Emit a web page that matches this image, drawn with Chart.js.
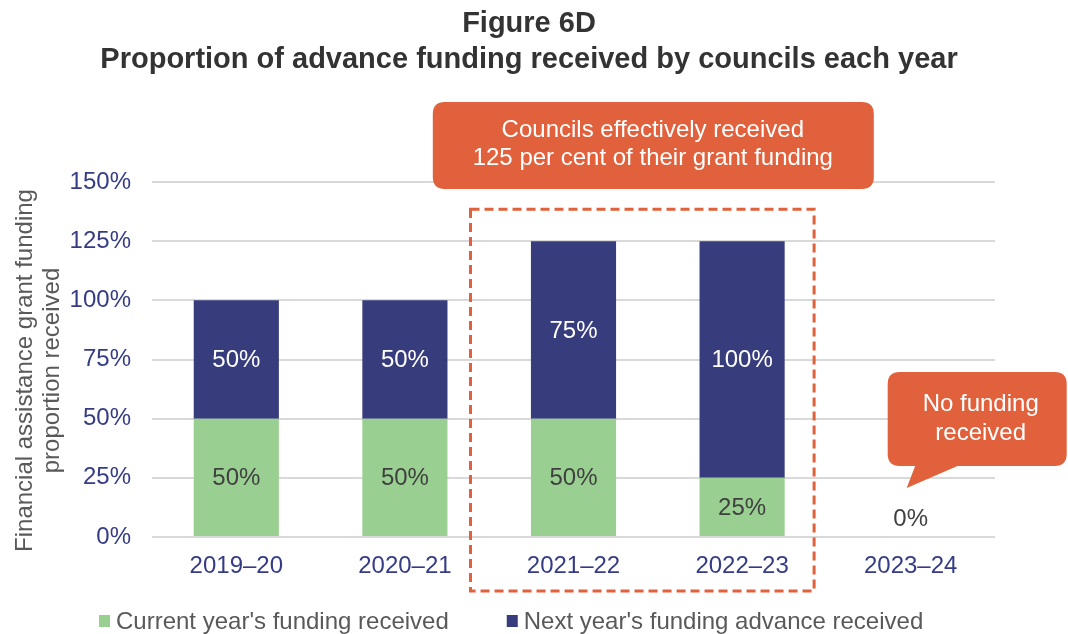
<!DOCTYPE html>
<html>
<head>
<meta charset="utf-8">
<script src="https://cdn.jsdelivr.net/npm/chart.js@4/dist/chart.umd.min.js"></script>
<style>
  html, body { margin: 0; padding: 0; background: #fff; }
  #wrap { width: 1068px; height: 634px; }
</style>
</head>
<body>
<div id="wrap"><canvas id="fundingChart" width="1068" height="634"></canvas></div>
<script>
var years = ['2019–20', '2020–21', '2021–22', '2022–23', '2023–24'];
var currentYear = [50, 50, 50, 25, 0];
var nextYearAdvance = [50, 50, 75, 100, 0];
var yTicks = [0, 25, 50, 75, 100, 125, 150];
var titleLines = ['Figure 6D', 'Proportion of advance funding received by councils each year'];
var yTitleLines = ['Financial assistance grant funding', 'proportion received'];

var GREEN = '#99cf90';
var NAVY = '#373d7c';
var ORANGE = '#e0613b';
var FONT = 'Liberation Sans, Arial, sans-serif';

function roundRect(ctx, x, y, w, h, r) {
    ctx.beginPath();
    ctx.moveTo(x + r, y);
    ctx.lineTo(x + w - r, y);
    ctx.quadraticCurveTo(x + w, y, x + w, y + r);
    ctx.lineTo(x + w, y + h - r);
    ctx.quadraticCurveTo(x + w, y + h, x + w - r, y + h);
    ctx.lineTo(x + r, y + h);
    ctx.quadraticCurveTo(x, y + h, x, y + h - r);
    ctx.lineTo(x, y + r);
    ctx.quadraticCurveTo(x, y, x + r, y);
    ctx.closePath();
}

// title, axis title, legend, bar labels, dashed box and the two callouts
var extras = {
    id: 'extras',
    afterDatasetsDraw: function(chart) {
        var ctx = chart.ctx;
        var xs = chart.scales.x, ys = chart.scales.y;
        var area = chart.chartArea;
        ctx.save();
        ctx.textAlign = 'center';
        ctx.textBaseline = 'middle';

        // title
        ctx.fillStyle = '#333333';
        ctx.font = 'bold 29px ' + FONT;
        ctx.fillText(titleLines[0], 529, 24);
        ctx.fillText(titleLines[1], 529, 60);

        // y axis title, rotated
        ctx.save();
        ctx.translate(25, (area.top + area.bottom) / 2 + 11);
        ctx.rotate(-Math.PI / 2);
        ctx.fillStyle = '#595959';
        ctx.font = '24px ' + FONT;
        ctx.fillText(yTitleLines[0], 0, 0);
        ctx.fillText(yTitleLines[1], 0, 27);
        ctx.restore();

        // values inside the bars
        ctx.font = '24px ' + FONT;
        chart.data.datasets.forEach(function(ds, di) {
            var meta = chart.getDatasetMeta(di);
            meta.data.forEach(function(bar, i) {
                var v = ds.data[i];
                if (!v) return;
                ctx.fillStyle = di === 0 ? '#404040' : '#ffffff';
                ctx.fillText(v + '%', bar.x, (bar.y + bar.base) / 2 + 1);
            });
        });
        years.forEach(function(y, i) {
            if (currentYear[i] + nextYearAdvance[i] === 0) {
                ctx.fillStyle = '#404040';
                ctx.fillText('0%', xs.getPixelForValue(i), ys.getPixelForValue(0) - 18);
            }
        });

        // dashed box round the two 125% years
        var left = xs.getPixelForValue(2) - 103;
        var right = xs.getPixelForValue(3) + 72;
        var top = ys.getPixelForValue(125) - 32;
        var bottom = ys.getPixelForValue(0) + 54;
        ctx.strokeStyle = ORANGE;
        ctx.lineWidth = 3;
        ctx.setLineDash([9, 5]);
        ctx.strokeRect(left, top, right - left, bottom - top);
        ctx.setLineDash([]);

        // top callout
        var cx = (xs.getPixelForValue(2) + xs.getPixelForValue(3)) / 2 - 5;
        ctx.fillStyle = ORANGE;
        roundRect(ctx, cx - 220, 102, 441, 87, 12);
        ctx.fill();
        ctx.fillStyle = '#ffffff';
        ctx.fillText('Councils effectively received', cx, 130);
        ctx.fillText('125 per cent of their grant funding', cx, 158);

        // speech bubble for 2023–24
        var bx = xs.getPixelForValue(4);
        ctx.fillStyle = ORANGE;
        roundRect(ctx, bx - 23, 372, 179, 94, 12);
        ctx.fill();
        ctx.beginPath();
        ctx.moveTo(bx + 6, 462);
        ctx.lineTo(bx - 4, 488);
        ctx.lineTo(bx + 56, 462);
        ctx.closePath();
        ctx.fill();
        ctx.fillStyle = '#ffffff';
        ctx.fillText('No funding', bx + 70, 404);
        ctx.fillText('received', bx + 70, 433);

        // legend
        ctx.textAlign = 'left';
        var lx = area.left - 53;
        var ly = area.bottom + 84;
        chart.data.datasets.forEach(function(ds) {
            ctx.fillStyle = ds.backgroundColor;
            ctx.fillRect(lx, ly - 6, 11, 12);
            ctx.fillStyle = '#595959';
            ctx.fillText(ds.label, lx + 17, ly + 1);
            lx += 17 + ctx.measureText(ds.label).width + 58;
        });
        ctx.restore();
    }
};

var ctx = document.getElementById('fundingChart').getContext('2d');
var fundingChart = new Chart(ctx, {
    type: 'bar',
    data: {
        labels: years,
        datasets: [{
            label: "Current year's funding received",
            data: currentYear,
            backgroundColor: GREEN,
            barPercentage: 1,
            categoryPercentage: 0.505
        }, {
            label: "Next year's funding advance received",
            data: nextYearAdvance,
            backgroundColor: NAVY,
            barPercentage: 1,
            categoryPercentage: 0.505
        }]
    },
    options: {
        responsive: false,
        animation: false,
        layout: { padding: { left: 11, right: 73, top: 182, bottom: 53 } },
        scales: {
            x: {
                stacked: true,
                grid: { display: false, drawTicks: false },
                border: { display: false },
                ticks: { color: '#353c85', font: { family: FONT, size: 24 }, padding: 15 },
                afterFit: function(axis) { axis.height = 44; }
            },
            y: {
                stacked: true,
                min: 0,
                max: 150,
                afterBuildTicks: function(axis) {
                    axis.ticks = yTicks.map(function(v) { return { value: v }; });
                },
                grid: { color: '#d9d9d9', lineWidth: 2, drawTicks: false },
                border: { display: false },
                ticks: {
                    color: '#353c85',
                    font: { family: FONT, size: 24 },
                    padding: 21,
                    callback: function(v) { return v + '%'; }
                },
                afterFit: function(axis) { axis.width = 141; }
            }
        },
        plugins: {
            legend: { display: false },
            tooltip: { enabled: false }
        }
    },
    plugins: [extras]
});
</script>
</body>
</html>
